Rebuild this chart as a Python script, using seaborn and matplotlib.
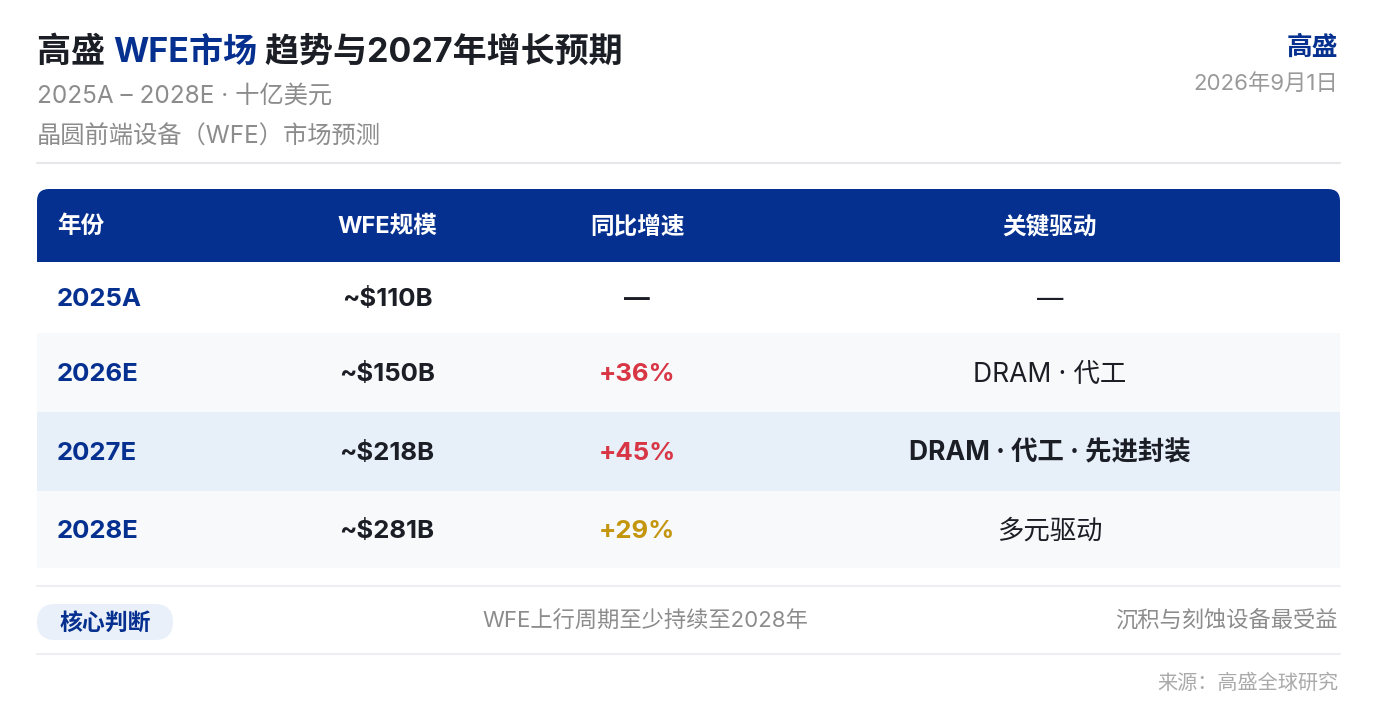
import seaborn as sns
import matplotlib.pyplot as plt
import pandas as pd
from matplotlib.patches import FancyBboxPatch, Rectangle

sns.set_theme(style="white")
plt.rcParams['font.family'] = ['Inter', 'Noto Sans CJK SC', 'DejaVu Sans']

# table content
years = ["2025A", "2026E", "2027E", "2028E"]
wfe_size = ["~$110B", "~$150B", "~$218B", "~$281B"]
yoy_growth = ["—", "+36%", "+45%", "+29%"]
drivers = ["—", "DRAM · 代工", "DRAM · 代工 · 先进封装", "多元驱动"]
headers = ["年份", "WFE规模", "同比增速", "关键驱动"]

df = pd.DataFrame({"年份": years, "WFE规模": wfe_size,
                   "同比增速": yoy_growth, "关键驱动": drivers})

BLUE = "#06308f"
DARK = "#1b1e25"
GRAY = "#8c8c8c"
growth_colors = {"—": DARK, "+36%": "#d83545", "+45%": "#d83545", "+29%": "#c4960e"}
row_bg = ["#ffffff", "#f7f9fb", "#e7eff9", "#f7f9fb"]
DY = 2  # small nudge, CJK text sits a bit high with va="center"

fig = plt.figure(figsize=(13.84, 7.2), dpi=100)
ax = fig.add_axes([0, 0, 1, 1])
ax.set_xlim(0, 1384)
ax.set_ylim(720, 0)
ax.axis("off")

renderer = fig.canvas.get_renderer()

# title in three colour chunks
x = 37
for part, col in [("高盛 ", DARK), ("WFE市场", BLUE), (" 趋势与2027年增长预期", DARK)]:
    t = ax.text(x, 51 + DY, part, fontsize=24.5, fontweight="bold", color=col,
                va="center", ha="left")
    bb = t.get_window_extent(renderer)
    x = bb.x1

ax.text(37, 94 + DY, "2025A – 2028E · 十亿美元", fontsize=17.5, color=GRAY, va="center")
ax.text(37, 135 + DY, "晶圆前端设备（WFE）市场预测", fontsize=17.5, color=GRAY, va="center")
ax.text(1338, 46 + DY, "高盛", fontsize=18.5, fontweight="bold", color=BLUE, va="center", ha="right")
ax.text(1338, 81 + DY, "2026年9月1日", fontsize=16, color="#999999", va="center", ha="right")

ax.plot([37, 1340], [163, 163], color="#e6e7ea", lw=1.5)

# header band with rounded top corners
ax.add_patch(FancyBboxPatch((37, 189), 1303, 73, boxstyle="round,pad=0,rounding_size=12",
                            fc=BLUE, ec="none"))
ax.add_patch(Rectangle((37, 225), 1303, 37, fc=BLUE, ec="none"))

col_x = [57, 387, 637, 1050]
col_ha = ["left", "center", "center", "center"]
for h, cx, ha in zip(headers, col_x, col_ha):
    ax.text(cx, 225 + DY, h, fontsize=17, fontweight="bold", color="white", va="center", ha=ha)

# body rows
row_top = [262, 333, 412, 491]
row_h = [71, 79, 79, 77]
for i, row in df.iterrows():
    ax.add_patch(Rectangle((37, row_top[i]), 1303, row_h[i], fc=row_bg[i], ec="none"))
    cy = row_top[i] + row_h[i] / 2 + DY
    ax.text(col_x[0], cy, row["年份"], fontsize=18.5, fontweight="bold", color=BLUE,
            va="center", ha="left")
    ax.text(col_x[1], cy, row["WFE规模"], fontsize=18.5, fontweight="bold", color=DARK,
            va="center", ha="center")
    ax.text(col_x[2], cy, row["同比增速"], fontsize=18.5, fontweight="bold",
            color=growth_colors[row["同比增速"]], va="center", ha="center")
    bold = "bold" if i == 2 else "normal"
    ax.text(col_x[3], cy, row["关键驱动"], fontsize=19, fontweight=bold, color=DARK,
            va="center", ha="center")

ax.plot([37, 1340], [586, 586], color="#eceef1", lw=1.5)
ax.plot([37, 1340], [654, 654], color="#eceef1", lw=1.5)

# footer
ax.add_patch(FancyBboxPatch((37, 604), 136, 36, boxstyle="round,pad=0,rounding_size=18",
                            fc="#eaf0f9", ec="none"))
ax.text(105, 622 + DY, "核心判断", fontsize=16.5, fontweight="bold", color=BLUE, va="center", ha="center")
ax.text(645, 619 + DY, "WFE上行周期至少持续至2028年", fontsize=16, color=GRAY, va="center", ha="center")
ax.text(1338, 619 + DY, "沉积与刻蚀设备最受益", fontsize=16, color=GRAY, va="center", ha="right")
ax.text(1338, 681 + DY, "来源：高盛全球研究", fontsize=14.5, color="#aaaaaa", va="center", ha="right")

fig.savefig("out.png", dpi=100)
plt.close(fig)
